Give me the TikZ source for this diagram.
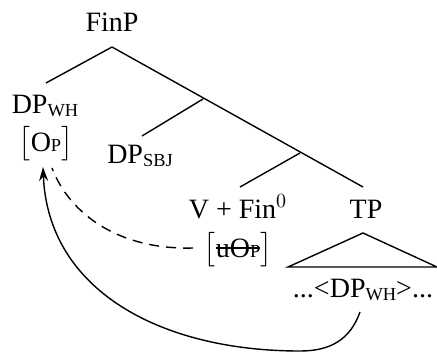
\documentclass[tikz,border=0pt]{standalone}
\usepackage{amsmath}
\usepackage{fontspec}
\setmainfont{Liberation Serif}
\usetikzlibrary{arrows.meta}

% small caps made by hand
\newcommand{\smc}[1]{{\fontsize{9.2}{10}\selectfont #1}}
\newcommand{\lowsmc}[1]{\raisebox{-1.6pt}{\smc{#1}}}
% struck-through text
\newlength{\strikelen}
\newcommand{\strike}[1]{\settowidth{\strikelen}{#1}\rlap{\rule[0.3em]{\strikelen}{0.6pt}}#1}

\tikzset{
  lbl/.style={font=\fontsize{14}{16}\selectfont, inner sep=0pt, anchor=base},
  branch/.style={line width=0.7pt},
  move/.style={line width=0.7pt, -{Stealth[length=7pt,width=4.5pt]}},
  agree/.style={line width=0.7pt, dash pattern=on 5pt off 3.5pt}
}

\begin{document}
\begin{tikzpicture}[x=0.5pt,y=-0.5pt]
\useasboundingbox (0,0) rectangle (437,352);

%------------------------
% Labels of the tree
%------------------------
\node[lbl] (finp) at (112,32) {FinP};
\node[lbl] (dpwh) at (45,113) {DP\lowsmc{WH}};
\node[lbl] (op) at (46,151) {$\big[$O\smc{P}$\big]$};
\node[lbl] (dpsbj) at (140,163) {DP\lowsmc{SBJ}};
\node[lbl] (vfin) at (238,218) {V + Fin$^0$};
\node[lbl] (uop) at (238,257) {$\big[$\strike{uO\smc{P}}$\big]$};
\node[lbl] (tp) at (366,218) {TP};
\node[lbl] (low) at (363,297) {...<DP\lowsmc{WH}>...};

%------------------------
% Branching points
%------------------------
\coordinate (top) at (112,47);
\coordinate (j1) at (203,99);
\coordinate (j2) at (300,153);
\coordinate (whtop) at (46,83);
\coordinate (sbjtop) at (142,136);
\coordinate (vtop) at (240,187);
\coordinate (tptop) at (363,187);

\draw[branch] (top) -- (whtop);
\draw[branch] (top) -- (tptop);
\draw[branch] (j1) -- (sbjtop);
\draw[branch] (j2) -- (vtop);

%------------------------
% Triangle under TP
%------------------------
\coordinate (apex) at (363,233);
\draw[branch] (apex) -- (288,267) -- (437,267) -- cycle;

%------------------------
% Agree (dashed) and movement (solid)
%------------------------
\coordinate (agreestart) at (193,248);
\coordinate (agreeend) at (52,168);
\draw[agree] (agreestart) .. controls (120,250) and (70,215) .. (agreeend);

\coordinate (trace) at (360,312);
\coordinate (bottom) at (300,351);
\coordinate (landing) at (43,167);
\draw[move] (trace) .. controls (350,340) and (330,351) .. (bottom)
  .. controls (160,351) and (48,290) .. (landing);

\end{tikzpicture}
\end{document}
